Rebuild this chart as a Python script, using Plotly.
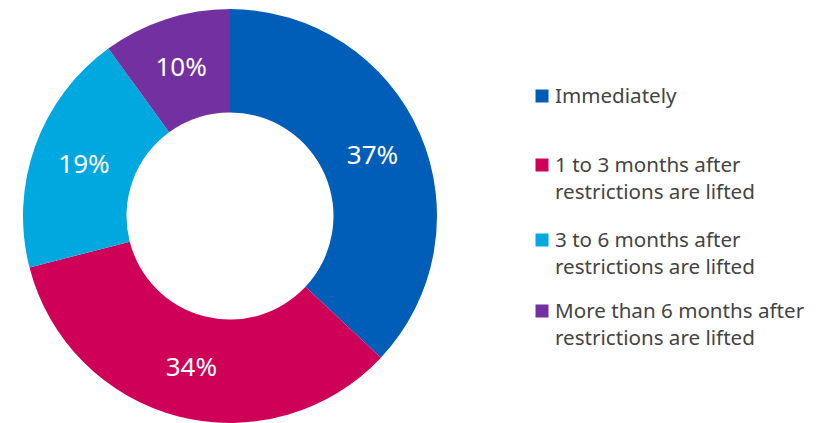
import plotly.graph_objects as go

# Survey answers: when respondents expect to resume
categories = [
    "Immediately",
    "1 to 3 months after restrictions are lifted",
    "3 to 6 months after restrictions are lifted",
    "More than 6 months after restrictions are lifted",
]
legend_labels = [
    "Immediately",
    "1 to 3 months after<br>restrictions are lifted",
    "3 to 6 months after<br>restrictions are lifted",
    "More than 6 months after<br>restrictions are lifted",
]
shares = [37, 34, 19, 10]
colors = ["#005EB8", "#CE0058", "#00A8E0", "#7330A0"]

W, H = 825, 423
FONT = "Noto Sans"
TEXT_GREY = "#444444"

fig = go.Figure(
    go.Pie(
        labels=categories,
        values=shares,
        sort=False,
        direction="clockwise",
        rotation=0,
        hole=0.5,
        marker=dict(colors=colors, line=dict(width=0)),
        texttemplate="%{value}%",
        textposition="inside",
        insidetextorientation="horizontal",
        textfont=dict(family=FONT, size=26, color="white"),
        hoverinfo="label+percent",
        domain=dict(x=[22.5 / W, 437.5 / W], y=[0, 414 / H]),
        showlegend=False,
    )
)

# Custom legend: coloured squares with wrapped labels to the right
legend_rows_px = [96, 165, 240, 311]  # first text line centre, px from top
sq = 13
for label, color, ypx in zip(legend_labels, colors, legend_rows_px):
    fig.add_shape(
        type="rect", xref="paper", yref="paper",
        x0=(542 - sq / 2) / W, x1=(542 + sq / 2) / W,
        y0=1 - (ypx + sq / 2) / H, y1=1 - (ypx - sq / 2) / H,
        fillcolor=color, line=dict(width=0),
    )
    fig.add_annotation(
        text=label, xref="paper", yref="paper",
        x=554 / W, y=1 - (ypx - 16) / H,
        xanchor="left", yanchor="top", align="left",
        showarrow=False, borderpad=0,
        font=dict(family=FONT, size=20.6, color=TEXT_GREY),
    )

fig.update_layout(
    width=W, height=H,
    margin=dict(l=0, r=0, t=0, b=0),
    paper_bgcolor="white", plot_bgcolor="white",
    showlegend=False,
)

fig.write_html("out.html")
